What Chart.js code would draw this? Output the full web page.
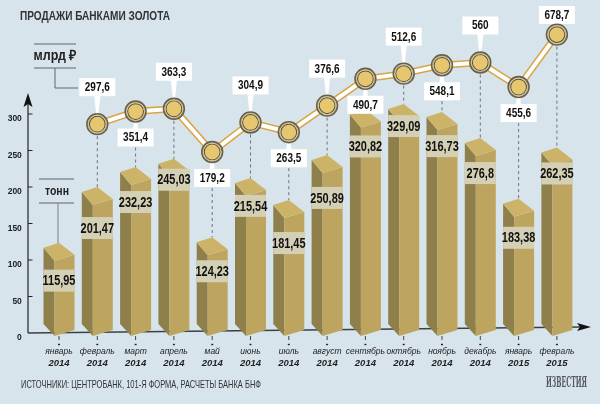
<!DOCTYPE html>
<html>
<head>
<meta charset="utf-8">
<style>
html, body { margin: 0; padding: 0; background: #d8e4ec; }
#wrap { position: relative; width: 600px; height: 404px; }
</style>
<script src="https://cdn.jsdelivr.net/npm/chart.js@4/dist/chart.umd.min.js"></script>
</head>
<body>
<div id="wrap"><canvas id="chart" width="600" height="404"></canvas></div>
<script>
var months = ["январь", "февраль", "март", "апрель", "май", "июнь", "июль", "август", "сентябрь", "октябрь", "ноябрь", "декабрь", "январь", "февраль"];
var years = ["2014", "2014", "2014", "2014", "2014", "2014", "2014", "2014", "2014", "2014", "2014", "2014", "2015", "2015"];
var tonnes = [115.95, 201.47, 232.23, 245.03, 124.23, 215.54, 181.45, 250.89, 320.82, 329.09, 316.73, 276.8, 183.38, 262.35];
var rubles = [null, 297.6, 351.4, 363.3, 179.2, 304.9, 263.5, 376.6, 490.7, 512.6, 548.1, 560, 455.6, 678.7];
var yTicks = [0, 50, 100, 150, 200, 250, 300];

var title = "ПРОДАЖИ БАНКАМИ ЗОЛОТА";
var source = "ИСТОЧНИКИ: ЦЕНТРОБАНК, 101-Я ФОРМА, РАСЧЕТЫ БАНКА БНФ";

var FONT = '"Liberation Sans", Arial, sans-serif';

// which side of the point the white label sits on, -1 above, 1 below
var labelSide = [0, -1, 1, -1, 1, -1, 1, -1, 1, -1, 1, -1, 1, -1];
// the pale band is not at a fixed place on the bars in the original
var bandShift = [9, 12, 6, -8, 5, -1, 14, 14, 8, -7, 5, 6, 10, -3];

function fmt(v) {
	return String(v).replace(".", ",");
}

function poly(ctx, pts, color) {
	ctx.beginPath();
	ctx.moveTo(pts[0][0], pts[0][1]);
	for (var i = 1; i < pts.length; i++) ctx.lineTo(pts[i][0], pts[i][1]);
	ctx.closePath();
	ctx.fillStyle = color;
	ctx.fill();
}

function text(ctx, str, x, y, font, color, align, maxW) {
	ctx.font = font;
	ctx.fillStyle = color;
	ctx.textAlign = align || "left";
	ctx.textBaseline = "middle";
	if (maxW) ctx.fillText(str, x, y, maxW);
	else ctx.fillText(str, x, y);
}

// no condensed face is installed, so squeeze the text to a share of its width
function squeezed(ctx, str, x, y, font, color, share) {
	ctx.font = font;
	text(ctx, str, x, y, font, color, "center", ctx.measureText(str).width * share);
}

function line(ctx, pts, color, width) {
	ctx.beginPath();
	ctx.moveTo(pts[0][0], pts[0][1]);
	for (var i = 1; i < pts.length; i++) ctx.lineTo(pts[i][0], pts[i][1]);
	ctx.strokeStyle = color;
	ctx.lineWidth = width;
	ctx.stroke();
}

// the scales must not ask for room around the plot, it has to fill the page height
function noPad(s) {
	s.paddingTop = s.paddingBottom = s.paddingLeft = s.paddingRight = 0;
}

// bar drawn as a box: left face, front face, roof
class GoldBox extends Chart.BarElement {
	draw(ctx) {
		var p = this.getProps(["x", "y", "base"], true);
		var l = p.x - 15.5, f = p.x - 4.5, r = p.x + 15.5;
		var y = p.y, b = p.base;
		poly(ctx, [[l, y - 13], [f, y], [f, b], [l, b - 12]], "#8e7f4b");
		poly(ctx, [[f, y], [r, y - 6], [r, b - 6], [f, b]], this.options.backgroundColor);
		poly(ctx, [[l, y - 13], [p.x, y - 18], [r, y - 6], [f, y]], "#ccb368");
	}
}
GoldBox.id = "goldBox";
GoldBox.defaults = Chart.BarElement.defaults;

class GoldBarController extends Chart.BarController {}
GoldBarController.id = "goldBar";
GoldBarController.defaults = Object.assign({}, Chart.BarController.defaults, { dataElementType: "goldBox" });
GoldBarController.overrides = Chart.BarController.overrides;

Chart.register(GoldBox, GoldBarController);

var decor = {
	id: "decor",
	beforeDatasetsDraw: function(chart) {
		var ctx = chart.ctx, sx = chart.scales.x, sy = chart.scales.y;
		ctx.save();
		text(ctx, title, 20, 17, "bold 12px " + FONT, "#333333", "left", 150);
		text(ctx, source, 21, 385, "10.5px " + FONT, "#333333", "left", 240);
		text(ctx, "ИЗВЕСТИЯ", 566.5, 383, 'bold 15px "DejaVu Serif Condensed", serif', "#55585c", "center", 41);

		// axes with arrows
		var y0 = sy.getPixelForValue(0);
		line(ctx, [[28, y0], [28, 100]], "#222222", 1.2);
		poly(ctx, [[28, 93], [32.5, 107], [28, 104], [23.5, 107]], "#111111");
		line(ctx, [[28, y0], [582, 327]], "#3c3f44", 1.4);
		poly(ctx, [[591, 327], [577, 323], [580, 327], [577, 331]], "#111111");
		yTicks.forEach(function(t) {
			if (t > 0) line(ctx, [[28, sy.getPixelForValue(t)], [32.5, sy.getPixelForValue(t)]], "#222222", 1);
		});
		months.forEach(function(m, i) {
			var x = sx.getPixelForValue(i);
			line(ctx, [[x, 336], [x, 340]], "#444444", 1);
			line(ctx, [[x - 1, 344.5], [x + 1, 344.5]], "#222222", 1.4);
		});

		// unit callouts
		line(ctx, [[34, 44], [76, 44]], "#5f656c", 1);
		line(ctx, [[34, 68], [76, 68]], "#5f656c", 1);
		line(ctx, [[55, 68], [55, 88], [78, 88]], "#5f656c", 1);
		text(ctx, "млрд ₽", 55, 56, "bold 14px " + FONT, "#222222", "center", 43);
		line(ctx, [[39, 179], [74, 179]], "#5f656c", 1);
		line(ctx, [[39, 203], [74, 203]], "#5f656c", 1);
		line(ctx, [[58, 203], [58, 245]], "#7a8087", 1);
		text(ctx, "тонн", 57, 191, "bold 13px " + FONT, "#222222", "center", 24);
		ctx.restore();
	},
	afterDatasetDraw: function(chart, args) {
		var ctx = chart.ctx;
		var bars = chart.getDatasetMeta(0).data;
		var pts = chart.getDatasetMeta(2).data;
		ctx.save();
		if (args.index === 0) {
			// pale bands, bar values and the dashed droplines
			bars.forEach(function(b, i) {
				var top = b.y + bandShift[i];
				ctx.fillStyle = "#d4d0b5";
				ctx.fillRect(b.x - 15.5, top, 31, 22);
				squeezed(ctx, fmt(tonnes[i]), b.x, top + 11.5, "bold 15px " + FONT, "#111111", 0.73);
				if (rubles[i] !== null) {
					ctx.setLineDash([3, 3]);
					line(ctx, [[b.x, pts[i].y], [b.x, b.y - 18]], "#6d7278", 1);
					ctx.setLineDash([]);
				}
			});
		}
		if (args.index === 1) {
			// white value labels with their pointers
			pts.forEach(function(p, i) {
				if (rubles[i] === null) return;
				var side = labelSide[i];
				var cy = side < 0 ? Math.max(15, p.y - 37) : p.y + 26;
				poly(ctx, [[p.x - 4, cy], [p.x + 4, cy], [p.x, p.y]], "#ffffff");
				ctx.fillStyle = "#ffffff";
				ctx.fillRect(p.x - 18, cy - 9, 36, 18);
				squeezed(ctx, fmt(rubles[i]), p.x, cy + 0.5, "bold 12.5px " + FONT, "#111111", 0.8);
			});
		}
		if (args.index === 2) {
			// coin rims around the points
			pts.forEach(function(p, i) {
				if (rubles[i] === null) return;
				ctx.beginPath();
				ctx.arc(p.x, p.y, 9, 0, Math.PI * 2);
				ctx.strokeStyle = "#c9c2a6";
				ctx.lineWidth = 1.2;
				ctx.stroke();
				ctx.beginPath();
				ctx.arc(p.x, p.y, 10.4, 0, Math.PI * 2);
				ctx.strokeStyle = "#6b6044";
				ctx.lineWidth = 1.6;
				ctx.stroke();
			});
		}
		ctx.restore();
	}
};

var chart = new Chart(document.getElementById("chart").getContext("2d"), {
	data: {
		labels: months,
		datasets: [{
			type: "goldBar",
			label: "тонн",
			data: tonnes,
			yAxisID: "yBars",
			backgroundColor: "#bda560",
			barThickness: 31,
			order: 3
		}, {
			type: "line",
			label: "млрд ₽",
			data: rubles,
			yAxisID: "yLine",
			borderColor: "#d9a441",
			borderWidth: 7,
			pointRadius: 0,
			order: 2
		}, {
			type: "line",
			label: "млрд ₽",
			data: rubles,
			yAxisID: "yLine",
			borderColor: "#ffffff",
			borderWidth: 4,
			pointRadius: 8,
			pointBackgroundColor: "#e6c66f",
			pointBorderColor: "#5d5233",
			pointBorderWidth: 1.2,
			order: 1
		}]
	},
	options: {
		responsive: false,
		animation: false,
		layout: { autoPadding: false, padding: { left: 0, right: 23.95, top: 0, bottom: 0 } },
		plugins: { legend: { display: false }, tooltip: { enabled: false } },
		scales: {
			x: {
				type: "category",
				offset: true,
				weight: 1,
				grid: { display: false, drawTicks: false },
				border: { display: false },
				afterFit: function(s) { noPad(s); s.height = 22; },
				ticks: {
					autoSkip: false, maxRotation: 0, padding: 11,
					font: { family: FONT, size: 8.5, style: "italic" },
					color: "#222222"
				}
			},
			xYear: {
				type: "category",
				labels: years,
				offset: true,
				weight: 2,
				position: "bottom",
				grid: { display: false, drawTicks: false },
				border: { display: false },
				afterFit: function(s) { noPad(s); s.height = 46; },
				ticks: {
					autoSkip: false, maxRotation: 0, padding: 0,
					font: { family: FONT, size: 9.5, style: "italic", weight: "bold" },
					color: "#222222"
				}
			},
			y: {
				position: "left",
				min: -4.11,
				max: 456.16,
				afterFit: function(s) { noPad(s); s.width = 39.85; },
				afterBuildTicks: function(s) { s.ticks = yTicks.map(function(v) { return { value: v }; }); },
				grid: { display: false, drawTicks: false },
				border: { display: false },
				ticks: {
					padding: 18, labelOffset: 5,
					font: { family: FONT, size: 8.5, weight: "bold" },
					color: "#222222"
				}
			},
			yBars: { display: false, min: 0, max: 516.9, afterFit: noPad },
			yLine: { display: false, min: -603.8, max: 826, afterFit: noPad }
		}
	},
	plugins: [decor]
});
</script>
</body>
</html>
